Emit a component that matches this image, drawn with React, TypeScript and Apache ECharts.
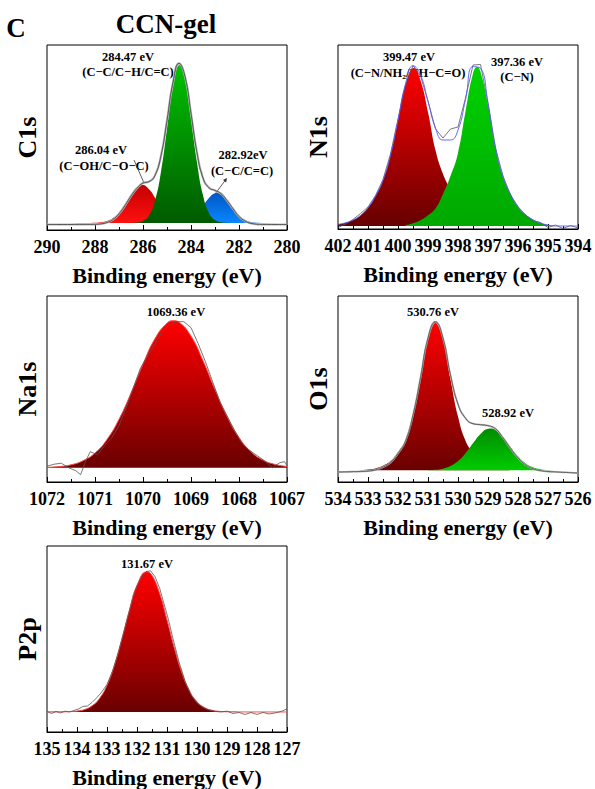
import React, { useEffect, useRef } from "react";
import * as echarts from "echarts";

const FONT = "Liberation Serif";

// ---------- C1s ----------
const C1S_RED_E = [288.25, 288, 287.75, 287.5, 287.25, 287, 286.75, 286.5, 286.25, 286.04, 285.75, 285.5, 285.25, 285, 284.75, 284.5, 284.25, 284];
const C1S_RED_I = [0, 0.2, 0.7, 2.0, 5.0, 10.6, 18.9, 28.3, 35.7, 38, 33.8, 25.3, 16.0, 8.5, 3.8, 1.4, 0.4, 0.1];
const C1S_GREEN_E = [286.5, 286.25, 286, 285.75, 285.5, 285.25, 285, 284.75, 284.47, 284.25, 284, 283.75, 283.5, 283.25, 283, 282.75, 282.5];
const C1S_GREEN_I = [0.1, 0.5, 2.1, 7.6, 22.3, 51.3, 94.0, 136.7, 158, 144.5, 105.0, 60.6, 27.8, 10.1, 2.9, 0.7, 0.1];
const C1S_BLUE_E = [285, 284.75, 284.5, 284.25, 284, 283.75, 283.5, 283.25, 283, 282.92, 282.75, 282.5, 282.25, 282, 281.75, 281.5, 281.25, 281];
const C1S_BLUE_I = [0, 0.1, 0.5, 1.6, 4.4, 9.6, 17.2, 25.1, 29.7, 30, 28.6, 22.4, 14.3, 7.4, 3.1, 1.1, 0.3, 0.1];
const C1S_FIT_E = [290, 289.5, 289, 288.5, 288.25, 288, 287.75, 287.5, 287.25, 287, 286.75, 286.5, 286.25, 286, 285.75, 285.5, 285.25, 285, 284.75, 284.5, 284.25, 284, 283.75, 283.5, 283.25, 283, 282.75, 282.5, 282.25, 282, 281.75, 281.5, 281, 280.5, 280];
const C1S_FIT_I = [-1.5, -1.5, -1.5, -1.4, -1.4, -1.3, -0.8, 0.5, 3.5, 9.1, 17.4, 26.9, 34.7, 40.0, 41.4, 47.6, 67.3, 102.5, 140.6, 159.6, 146.5, 109.5, 70.2, 45.0, 35.2, 32.6, 29.3, 22.5, 14.3, 6.5, 2.0, -0.3, -1.4, -1.5, -1.5];

// ---------- N1s ----------
const N1S_RED_E = [402, 401.75, 401.5, 401.25, 401, 400.75, 400.5, 400.25, 400, 399.75, 399.47, 399.25, 399, 398.75, 398.5, 398.25, 398, 397.75, 397.5, 397.25, 397, 396.75];
const N1S_RED_I = [1.6, 3.2, 6.0, 10.6, 18.2, 30.0, 45.8, 71.0, 105.9, 141.4, 158, 145.4, 113.8, 75.8, 52.0, 36.0, 20.5, 11.9, 6.8, 3.5, 1.7, 0.3];
const N1S_GREEN_E = [399.75, 399.5, 399.25, 399, 398.75, 398.5, 398.25, 398, 397.75, 397.5, 397.36, 397.25, 397, 396.75, 396.5, 396.25, 396, 395.75, 395.5, 395.25, 395, 394.75];
const N1S_GREEN_I = [0.8, 2.7, 5.7, 10.7, 17.5, 32.0, 50.0, 73.1, 114.5, 152.6, 159, 154.2, 120.8, 77.9, 49.3, 31.8, 19.1, 11.4, 6.2, 3.0, 1.0, 0];
const N1S_FIT_E = [402, 401.75, 401.5, 401.25, 401, 400.75, 400.5, 400.25, 400, 399.75, 399.5, 399.25, 399, 398.75, 398.5, 398.25, 398, 397.75, 397.5, 397.25, 397, 396.75, 396.5, 396.25, 396, 395.75, 395.5, 395.25, 395, 394.75, 394.5, 394.25, 394];
const N1S_FIT_I = [1.6, 3.2, 6.0, 10.6, 18.2, 30.0, 45.8, 71.0, 105.9, 142.2, 160.2, 151.1, 124.5, 98.0, 86.0, 86.0, 96.0, 126.4, 159.4, 157.7, 122.5, 78.2, 49.3, 31.8, 19.1, 11.4, 6.2, 3.0, 1.0, 0, 0, 0, 0];
const N1S_RAW_I = [-1.5, 2.0, 6.5, 12.5, 19.0, 30.5, 46.5, 72.0, 107.0, 141.0, 160.5, 150.0, 125.0, 97.0, 88.0, 97.0, 99.0, 128.0, 161.0, 161.5, 123.0, 78.0, 50.0, 31.0, 19.5, 11.0, 5.5, 3.5, -1.5, 1.0, -2.5, 0.5, -2.0];

// ---------- Na1s ----------
const NA1S_FIT_E = [1072, 1071.75, 1071.5, 1071.25, 1071, 1070.75, 1070.5, 1070.25, 1070, 1069.75, 1069.5, 1069.36, 1069.25, 1069, 1068.75, 1068.5, 1068.25, 1068, 1067.75, 1067.5, 1067.25, 1067];
const NA1S_FIT_I = [0.4, 1.1, 2.9, 7.0, 14.7, 28.2, 48.4, 74.7, 103.6, 129.1, 144.5, 147, 145.5, 131.6, 107.0, 78.1, 51.3, 30.3, 16.0, 7.6, 3.3, 1.3];
const NA1S_RAW_E = [1072, 1071.85, 1071.7, 1071.55, 1071.4, 1071.3, 1071.2, 1071.1, 1070.95, 1070.8, 1070.65, 1070.5, 1070.35, 1070.2, 1070.05, 1069.9, 1069.75, 1069.6, 1069.45, 1069.3, 1069.15, 1069, 1068.85, 1068.7, 1068.55, 1068.4, 1068.25, 1068.1, 1067.95, 1067.8, 1067.65, 1067.5, 1067.4, 1067.3, 1067.15, 1067.05, 1067];
const NA1S_RAW_I = [1.5, 3.5, 4.5, 0, -3, -7, 6, 16, 13, 22, 30, 42, 60, 80, 100, 112, 124, 136, 143, 146, 146, 140, 124, 106, 86, 66, 52, 38, 25, 18, 13, 8, 4, 0, 5, 6, 2];

// ---------- O1s ----------
const O1S_RED_E = [533.25, 533, 532.75, 532.5, 532.25, 532, 531.75, 531.5, 531.25, 531, 530.76, 530.5, 530.25, 530, 529.75, 529.5, 529.25, 529, 528.75, 528.5, 528.25];
const O1S_RED_I = [0.1, 0.7, 1.9, 4.6, 9.2, 18.2, 30.5, 56.6, 93.9, 133.4, 149, 131.9, 90.9, 53.6, 29.4, 17.4, 8.8, 4.3, 1.9, 0.7, 0];
const O1S_GREEN_E = [531, 530.75, 530.5, 530.25, 530, 529.75, 529.5, 529.25, 529, 528.92, 528.75, 528.5, 528.25, 528, 527.75, 527.5, 527.25, 527, 526.75];
const O1S_GREEN_I = [0.2, 0.5, 1.6, 4.2, 9.2, 17.1, 26.9, 36.2, 41.4, 41.7, 40.2, 33.2, 23.3, 13.9, 7.0, 3.0, 1.1, 0.3, 0.1];
const O1S_FIT_E = [534, 533.75, 533.5, 533.25, 533, 532.75, 532.5, 532.25, 532, 531.75, 531.5, 531.25, 531, 530.75, 530.5, 530.25, 530, 529.75, 529.5, 529.25, 529, 528.75, 528.5, 528.25, 528, 527.75, 527.5, 527.25, 527, 526.75, 526.5, 526.25, 526];
const O1S_FIT_I = [-1.7, -1.6, -1.4, -1.2, -0.8, 0.4, 3.1, 7.7, 16.7, 29.0, 55.1, 92.4, 132.1, 148, 132, 95, 66, 52, 46.5, 45.5, 44.5, 41.5, 32.4, 21.8, 12.4, 5.5, 1.5, -0.4, -1.2, -1.6, -2.0, -2.4, -2.7];

// ---------- P2p ----------
const P2P_FIT_E = [135, 134.5, 134.25, 134, 133.75, 133.5, 133.25, 133, 132.75, 132.5, 132.25, 132, 131.67, 131.5, 131.25, 131, 130.75, 130.5, 130.25, 130, 129.75, 129.5, 129.25, 129, 128, 127];
const P2P_FIT_I = [0, 0.1, 0.3, 0.9, 2.4, 6.1, 13.5, 26.6, 46.9, 73.4, 102.1, 126.4, 140, 136.3, 118.7, 91.9, 63.3, 38.8, 21.1, 10.2, 4.4, 1.7, 0.6, 0.2, 0, 0];
const P2P_RAW_E = [135, 134.85, 134.7, 134.55, 134.4, 134.25, 134.1, 133.95, 133.8, 133.65, 133.5, 133.35, 133.2, 133, 132.8, 132.6, 132.4, 132.2, 132, 131.85, 131.7, 131.55, 131.4, 131.25, 131.1, 130.95, 130.8, 130.6, 130.4, 130.2, 130, 129.8, 129.6, 129.4, 129.2, 129, 128.8, 128.6, 128.4, 128.2, 128, 127.8, 127.6, 127.4, 127.2, 127];
const P2P_RAW_I = [0.5, -1.5, 0.5, -1, 0.8, 0, 1.5, 3, 5.5, 6, 9.5, 14, 19, 27.5, 42, 62, 84, 107, 126, 134, 140, 141, 135, 124, 108, 92, 73, 50, 31, 17, 9, 4.5, 2, 0.5, 0, 0.8, -1.5, -0.5, -2.5, -0.5, -2.5, -0.5, -2, -1, 0.5, 3];

// ---------- axes ----------
const PANELS = [
  { name: "C1s", min: 280, max: 290, interval: 2, ymin: -7, ymax: 178 },
  { name: "N1s", min: 394, max: 402, interval: 1, ymin: -3, ymax: 181 },
  { name: "Na1s", min: 1067, max: 1072, interval: 1, ymin: -14.3, ymax: 171.7 },
  { name: "O1s", min: 526, max: 534, interval: 1, ymin: -11.7, ymax: 174 },
  { name: "P2p", min: 127, max: 135, interval: 1, ymin: -20, ymax: 165.7 },
];
const X_TITLE = "Binding energy (eV)";

const GRIDS = [
  { left: 47, top: 45, width: 240, height: 185 },
  { left: 338, top: 45, width: 240, height: 184 },
  { left: 47, top: 296, width: 240, height: 186 },
  { left: 338, top: 296, width: 240, height: 186 },
  { left: 47, top: 546, width: 240, height: 186 },
];

// pair energies with intensities, ordered by increasing energy
function zip(e: number[], v: number[]) {
  return e.map((x, i) => [x, v[i]]).sort((a, b) => a[0] - b[0]);
}

function grad(top: string, bottom: string) {
  return new echarts.graphic.LinearGradient(0, 0, 0, 1, [
    { offset: 0, color: top },
    { offset: 1, color: bottom },
  ]);
}

function area(idx: number, e: number[], v: number[], top: string, bottom: string, lineColor = "#000", lineWidth = 0) {
  return {
    type: "line",
    xAxisIndex: idx,
    yAxisIndex: idx,
    data: zip(e, v),
    smooth: true,
    symbol: "none",
    silent: true,
    lineStyle: { color: lineColor, width: lineWidth, opacity: lineWidth > 0 ? 1 : 0 },
    areaStyle: { color: grad(top, bottom), opacity: 1 },
  };
}

function line(idx: number, e: number[], v: number[], color: string, width: number, smooth: boolean) {
  return {
    type: "line",
    xAxisIndex: idx,
    yAxisIndex: idx,
    data: zip(e, v),
    smooth,
    symbol: "none",
    silent: true,
    lineStyle: { color, width },
  };
}

function txt(x: number, y: number, text: string, size: number) {
  return {
    type: "text",
    x,
    y,
    silent: true,
    style: {
      text,
      fontFamily: FONT,
      fontWeight: "bold",
      fontSize: size,
      fill: "#000",
      align: "center",
      verticalAlign: "middle",
      textAlign: "center",
      textVerticalAlign: "middle",
    },
  };
}

export default function App() {
  const ref = useRef<HTMLDivElement>(null);
  useEffect(() => {
    if (!ref.current) return;
    const chart = echarts.init(ref.current, undefined, { renderer: "svg" });
    const option: any = {
      animation: false,
      backgroundColor: "#fff",
      textStyle: { fontFamily: FONT },
      grid: GRIDS.map((g) => ({ ...g, show: true, borderColor: "#000", borderWidth: 1, backgroundColor: "transparent" })),
      xAxis: PANELS.map((p, i) => ({
        type: "value",
        gridIndex: i,
        min: p.min,
        max: p.max,
        interval: p.interval,
        inverse: true,
        axisLine: { show: true, onZero: false, lineStyle: { color: "#000", width: 1 } },
        axisTick: { show: true, inside: true, length: 5, lineStyle: { color: "#000", width: 1 } },
        minorTick: { show: true, splitNumber: 2, length: 3, lineStyle: { color: "#000", width: 1 } },
        splitLine: { show: false },
        minorSplitLine: { show: false },
        axisLabel: {
          fontFamily: FONT,
          fontWeight: "bold",
          fontSize: 18,
          color: "#000",
          margin: 8,
          showMinLabel: true,
          showMaxLabel: true,
          formatter: (v: number) => String(v),
        },
        name: X_TITLE,
        nameLocation: "middle",
        nameGap: 34,
        nameTextStyle: { fontFamily: FONT, fontWeight: "bold", fontSize: 22, color: "#000" },
      })),
      yAxis: PANELS.map((p, i) => ({
        type: "value",
        gridIndex: i,
        min: p.ymin,
        max: p.ymax,
        axisLine: { show: false },
        axisTick: { show: false },
        axisLabel: { show: false },
        splitLine: { show: false },
        name: p.name,
        nameLocation: "middle",
        nameRotate: 90,
        nameGap: 7,
        nameTextStyle: { fontFamily: FONT, fontWeight: "bold", fontSize: 26, color: "#000" },
      })),
      series: [
        // C1s
        area(0, C1S_RED_E, C1S_RED_I, "#c40000", "#ff1010"),
        area(0, C1S_BLUE_E, C1S_BLUE_I, "#0058c4", "#0a86ff"),
        area(0, C1S_GREEN_E, C1S_GREEN_I, "#00c200", "#005a00"),
        line(0, C1S_FIT_E, C1S_FIT_I, "#b4b4b4", 2.2, true),
        line(0, C1S_FIT_E, C1S_FIT_I, "#303030", 0.7, true),
        // N1s
        area(1, N1S_RED_E, N1S_RED_I, "#ff0000", "#660000"),
        area(1, N1S_GREEN_E, N1S_GREEN_I, "#00d200", "#00a800"),
        line(1, N1S_FIT_E, N1S_RAW_I, "#555555", 0.8, false),
        line(1, N1S_FIT_E, N1S_FIT_I, "#5a5aff", 0.9, true),
        // Na1s
        area(2, NA1S_FIT_E, NA1S_FIT_I, "#ff0000", "#6a0000", "#ff4a4a", 1),
        line(2, NA1S_RAW_E, NA1S_RAW_I, "#555555", 0.8, false),
        // O1s
        area(3, O1S_RED_E, O1S_RED_I, "#ff0000", "#6a0000"),
        area(3, O1S_GREEN_E, O1S_GREEN_I, "#008c00", "#00cc00"),
        line(3, O1S_FIT_E, O1S_FIT_I, "#b4b4b4", 1.8, true),
        line(3, O1S_FIT_E, O1S_FIT_I, "#404040", 0.7, true),
        // P2p
        area(4, P2P_FIT_E, P2P_FIT_I, "#ff0000", "#6a0000", "#ff4a4a", 1),
        line(4, P2P_RAW_E, P2P_RAW_I, "#555555", 0.8, false),
      ],
      graphic: [
        txt(16, 28, "C", 27),
        txt(166, 24, "CCN-gel", 27),
        txt(128, 57, "284.47 eV", 12.5),
        txt(128, 72, "(C−C/C−H/C=C)", 12.5),
        txt(101, 150, "286.04 eV", 12.5),
        txt(104, 166, "(C−OH/C−O−C)", 12.5),
        txt(243, 155, "282.92eV", 12.5),
        txt(242, 171, "(C−C/C=C)", 12.5),
        txt(409, 57, "399.47 eV", 12.5),
        txt(408, 73, "(C−N/NH₂/NH−C=O)", 12.5),
        txt(517, 62, "397.36 eV", 12.5),
        txt(517, 77, "(C−N)", 12.5),
        txt(176, 312, "1069.36 eV", 12.5),
        txt(433, 312, "530.76 eV", 12.5),
        txt(508, 413, "528.92 eV", 12.5),
        txt(147, 564, "131.67 eV", 12.5),
        { type: "line", silent: true, shape: { x1: 134, y1: 160, x2: 144, y2: 183 }, style: { stroke: "#333", lineWidth: 0.8 } },
        { type: "line", silent: true, shape: { x1: 215, y1: 194, x2: 225.5, y2: 180 }, style: { stroke: "#333", lineWidth: 0.8 } },
        { type: "polygon", silent: true, shape: { points: [[227, 178], [226.2, 182.4], [223, 180]] }, style: { fill: "#333" } },
      ],
    };
    chart.setOption(option);
    return () => chart.dispose();
  }, []);
  return <div ref={ref} style={{ position: "fixed", left: 0, top: 0, width: 595, height: 789, background: "#fff" }} />;
}
